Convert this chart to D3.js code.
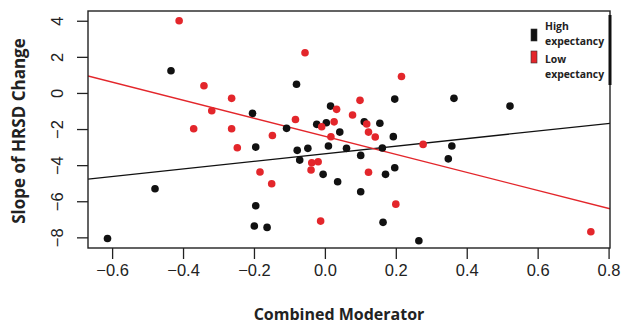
<!DOCTYPE html>
<html><head><meta charset="utf-8">
<script src="https://cdn.jsdelivr.net/npm/d3@7"></script>
<style>body{margin:0;background:#fff}svg{display:block}</style>
</head><body>
<script>
// High expectancy (black) points: [moderator, slope]
const highX = [-0.613,-0.479,-0.434,-0.204,-0.080,-0.108,0.016,-0.023,0.004,0.042,0.111,0.155,0.197,0.193,0.364,0.522,0.358,0.348,-0.195,-0.078,-0.048,0.010,0.061,0.101,0.162,-0.071,-0.005,0.036,-0.195,-0.199,-0.163,0.171,0.197,0.101,0.164,0.265];
const highY = [-8.06,-5.31,1.23,-1.13,0.48,-1.96,-0.73,-1.74,-1.65,-2.17,-1.60,-1.68,-0.34,-2.42,-0.30,-0.73,-2.94,-3.65,-3.00,-3.18,-3.07,-2.94,-3.07,-3.46,-3.05,-3.72,-4.51,-4.92,-6.25,-7.37,-7.45,-4.51,-4.14,-5.47,-7.17,-8.19];
// Low expectancy (red) points
const lowX = [-0.411,-0.341,-0.263,-0.319,-0.370,-0.263,-0.247,-0.056,0.216,0.099,0.033,0.078,0.026,-0.083,-0.009,0.118,0.123,0.142,-0.148,0.017,0.277,-0.183,-0.150,-0.037,-0.019,-0.039,0.123,0.200,-0.012,0.750];
const lowY = [4.00,0.40,-0.30,-0.99,-1.98,-1.98,-3.04,2.23,0.91,-0.41,-0.91,-1.22,-1.60,-1.47,-1.87,-1.72,-2.17,-2.44,-2.36,-2.43,-2.85,-4.38,-5.03,-3.87,-3.81,-4.27,-4.39,-6.16,-7.10,-7.69];
// fitted lines: [intercept, slope]
const highFit = [-3.37, 2.10];
const lowFit = [-2.40, -5.0];
const xTicks = [-0.6,-0.4,-0.2,0.0,0.2,0.4,0.6,0.8];
const yTicks = [4,2,0,-2,-4,-6,-8];
const legendLabels = [["High","expectancy"],["Low","expectancy"]];

const W=630,H=327;
const m={l:88,r:20,t:11,b:79};
const black="#111111", red="#e3262b";
const svg=d3.select("body").append("svg").attr("width",W).attr("height",H);
const x=d3.scaleLinear().domain([-0.668,0.804]).range([m.l,W-m.r]);
const y=d3.scaleLinear().domain([-8.59,4.54]).range([H-m.b,m.t]);

svg.append("defs").append("clipPath").attr("id","c").append("rect")
  .attr("x",m.l).attr("y",m.t).attr("width",W-m.r-m.l).attr("height",H-m.b-m.t);

const xa=svg.append("g").attr("transform",`translate(0,${H-m.b})`)
  .call(d3.axisBottom(x).tickValues(xTicks).tickFormat(d3.format(".1f")).tickSize(11).tickPadding(5));
xa.select(".domain").remove();
xa.selectAll("line").attr("stroke","#222").attr("stroke-width",1.3);
xa.selectAll("text").attr("font-family","Liberation Sans, Arial, sans-serif").attr("font-size",16.5).attr("fill","#222");

const ya=svg.append("g").attr("transform",`translate(${m.l},0)`)
  .call(d3.axisLeft(y).tickValues(yTicks).tickSize(11).tickPadding(0));
ya.select(".domain").remove();
ya.selectAll("line").attr("stroke","#222").attr("stroke-width",1.3);
ya.selectAll("text").attr("font-family","Liberation Sans, Arial, sans-serif").attr("font-size",16.5).attr("fill","#222")
  .attr("text-anchor","middle").attr("dy",null).attr("x",null)
  .attr("transform","translate(-31,0) rotate(-90)").attr("dy","0.35em");

// lines
const g=svg.append("g").attr("clip-path","url(#c)");
const dom=x.domain();
[[highFit,black,1.3],[lowFit,red,1.4]].forEach(([f,c,w])=>{
  g.append("line").attr("x1",x(dom[0])).attr("x2",x(dom[1]))
   .attr("y1",y(f[0]+f[1]*dom[0])).attr("y2",y(f[0]+f[1]*dom[1]))
   .attr("stroke",c).attr("stroke-width",w);
});
// points
const hi=highX.map((v,i)=>[v,highY[i]]), lo=lowX.map((v,i)=>[v,lowY[i]]);
g.selectAll(".h").data(hi).enter().append("circle").attr("cx",d=>x(d[0])).attr("cy",d=>y(d[1])).attr("r",3.8).attr("fill",black);
g.selectAll(".l").data(lo).enter().append("circle").attr("cx",d=>x(d[0])).attr("cy",d=>y(d[1])).attr("r",3.8).attr("fill",red);

// box
svg.append("rect").attr("x",m.l).attr("y",m.t).attr("width",W-m.r-m.l).attr("height",H-m.b-m.t)
  .attr("fill","none").attr("stroke","#222").attr("stroke-width",1.4);
svg.append("line").attr("x1",W-m.r).attr("x2",W-m.r).attr("y1",15).attr("y2",85).attr("stroke","#111").attr("stroke-width",3);

// legend
const lg=svg.append("g");
[black,red].forEach((c,i)=>{
  lg.append("rect").attr("x",531).attr("y",29+i*22).attr("width",6).attr("height",12).attr("fill",c).attr("stroke","#333").attr("stroke-width",0.6);
  legendLabels[i].forEach((t,j)=>{
    lg.append("text").attr("x",545).attr("y",30+i*33+j*15).text(t)
      .attr("font-family","Open Sans, sans-serif").attr("font-weight","bold").attr("font-size",10.4).attr("fill","#222");
  });
});

// titles
svg.append("text").attr("x",339).attr("y",320).attr("text-anchor","middle").text("Combined Moderator")
  .attr("font-family","Open Sans, sans-serif").attr("font-weight","bold").attr("font-size",16).attr("fill","#222");
svg.append("text").attr("transform","translate(25,131) rotate(-90)").attr("text-anchor","middle").text("Slope of HRSD Change")
  .attr("font-family","Open Sans, sans-serif").attr("font-weight","bold").attr("font-size",17).attr("fill","#222");
</script>
</body></html>
